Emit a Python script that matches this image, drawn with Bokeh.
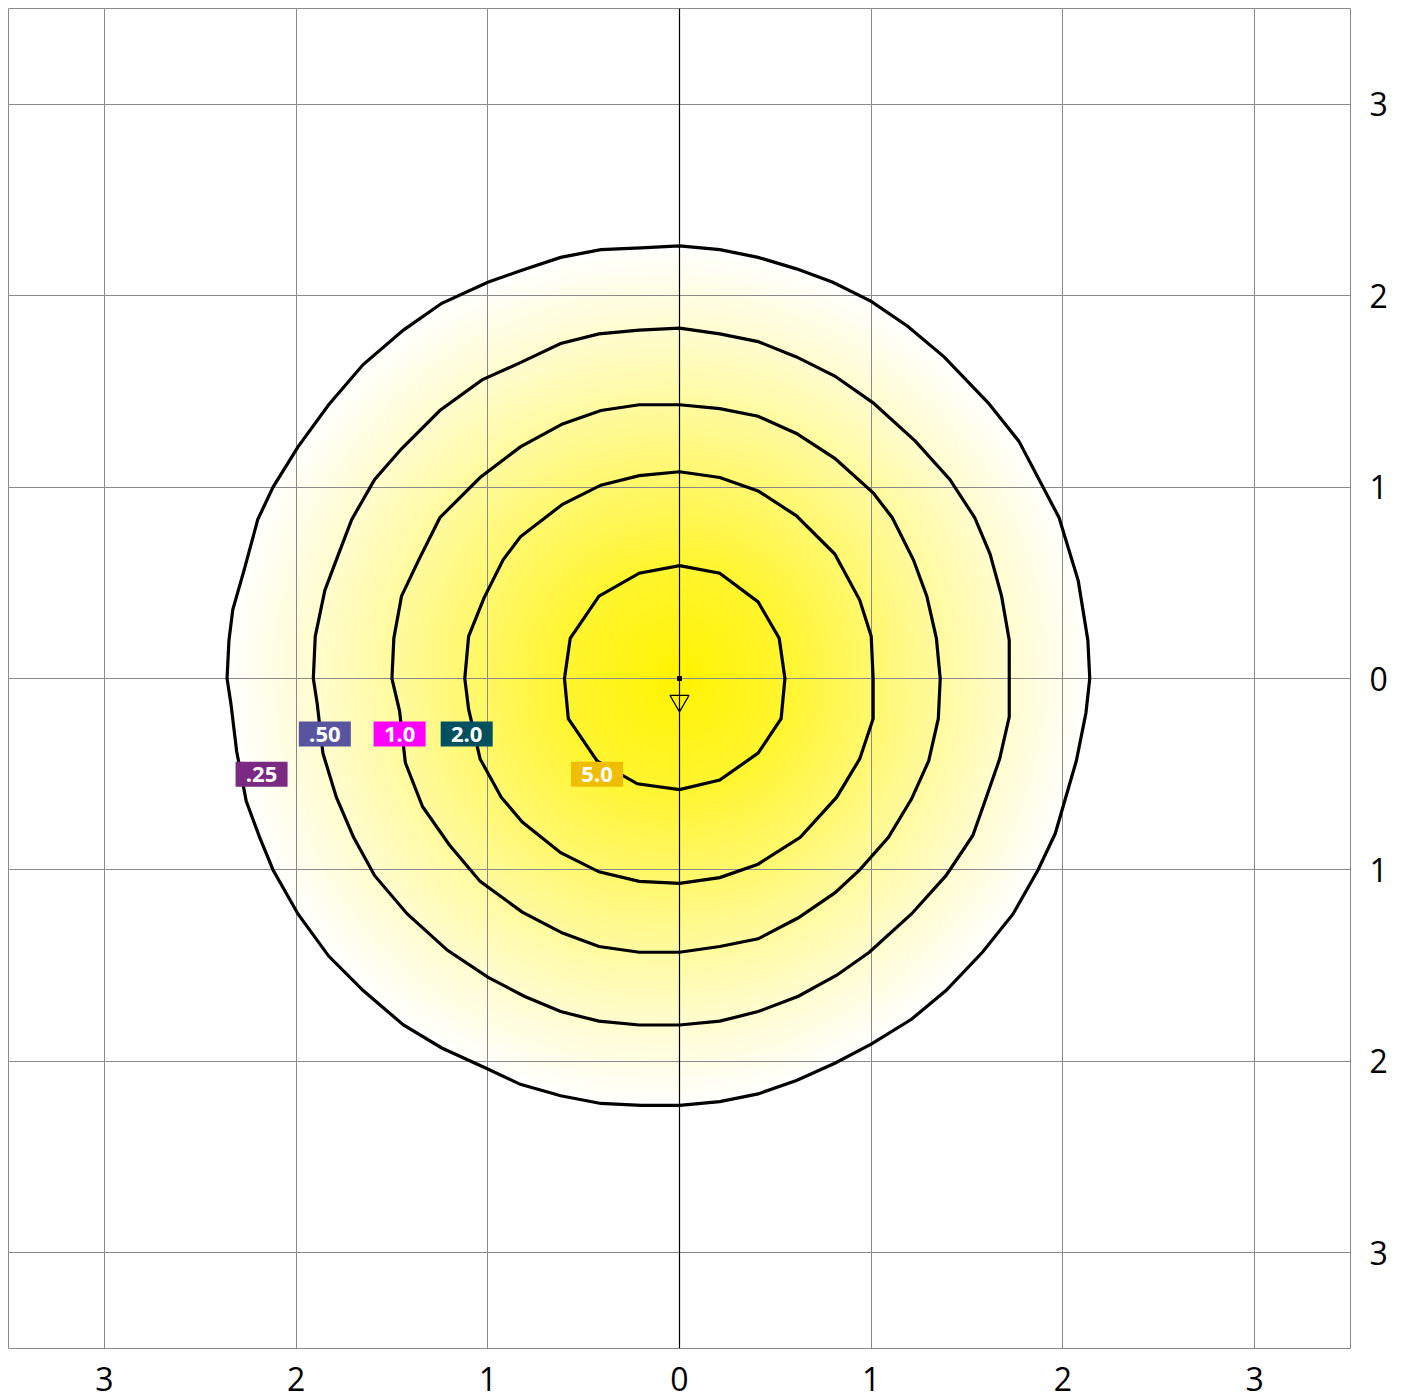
import numpy as np
from bokeh.plotting import figure
from bokeh.models import FixedTicker, Span, Range1d
from bokeh.embed import file_html
from bokeh.resources import INLINE
from bokeh.core.properties import value

# ---------------- data ----------------
ticks = [-3, -2, -1, 0, 1, 2, 3]
tick_labels = ["3", "2", "1", "0", "1", "2", "3"]

level_names = [".25", ".50", "1.0", "2.0", "5.0"]
level_values = [0.25, 0.5, 1.0, 2.0, 5.0]
peak_value = 10.0

# isolux contour .25
c025_x = [0.00, 0.21, 0.41, 0.61, 0.80, 1.00, 1.19, 1.38, 1.61, 1.77, 1.98, 2.08, 2.13, 2.14,
          2.12, 2.07, 1.96, 1.87, 1.74, 1.58, 1.39, 1.21, 1.00, 0.81, 0.61, 0.41, 0.21, 0.00,
          -0.20, -0.41, -0.62, -0.83, -1.00, -1.24, -1.44, -1.65, -1.83, -1.99, -2.12, -2.19,
          -2.26, -2.31, -2.34, -2.36, -2.35, -2.33, -2.27, -2.20, -2.12, -1.99, -1.83, -1.65,
          -1.44, -1.24, -1.00, -0.83, -0.62, -0.41, -0.20]
c025_y = [2.26, 2.24, 2.20, 2.14, 2.07, 1.97, 1.84, 1.68, 1.44, 1.24, 0.84, 0.51, 0.20, 0.00,
          -0.18, -0.43, -0.81, -1.00, -1.23, -1.43, -1.63, -1.78, -1.91, -2.01, -2.10, -2.17,
          -2.21, -2.23, -2.23, -2.22, -2.18, -2.12, -2.04, -1.93, -1.81, -1.63, -1.45, -1.23,
          -1.00, -0.83, -0.64, -0.38, -0.13, 0.00, 0.20, 0.36, 0.57, 0.83, 1.00, 1.21, 1.43,
          1.64, 1.82, 1.96, 2.07, 2.13, 2.20, 2.24, 2.25]

# isolux contour .50
c050_x = [0.00, 0.21, 0.41, 0.61, 0.81, 1.01, 1.23, 1.41, 1.54, 1.62, 1.68, 1.72, 1.72,
          1.72, 1.67, 1.59, 1.53, 1.39, 1.21, 0.99, 0.82, 0.62, 0.41, 0.21, 0.00,
          -0.21, -0.42, -0.62, -0.81, -1.00, -1.21, -1.42, -1.59, -1.70, -1.79, -1.86, -1.89, -1.91,
          -1.90, -1.85, -1.79, -1.71, -1.59, -1.45, -1.25, -1.03, -0.83, -0.62, -0.42, -0.21]
c050_y = [1.83, 1.80, 1.76, 1.68, 1.58, 1.44, 1.24, 1.04, 0.84, 0.65, 0.43, 0.20, 0.00,
          -0.20, -0.42, -0.65, -0.82, -1.03, -1.23, -1.43, -1.55, -1.66, -1.74, -1.79, -1.81,
          -1.81, -1.79, -1.74, -1.66, -1.56, -1.42, -1.23, -1.03, -0.83, -0.62, -0.39, -0.13, 0.00,
          0.22, 0.46, 0.62, 0.83, 1.04, 1.20, 1.40, 1.56, 1.65, 1.75, 1.80, 1.82]

# isolux contour 1.0
c100_x = [0.00, 0.21, 0.41, 0.61, 0.81, 1.01, 1.11, 1.22, 1.29, 1.34, 1.36,
          1.35, 1.30, 1.21, 1.09, 0.94, 0.81, 0.62, 0.41, 0.21, 0.00,
          -0.21, -0.42, -0.61, -0.82, -1.04, -1.20, -1.34, -1.43, -1.46, -1.50,
          -1.49, -1.45, -1.36, -1.25, -1.04, -0.83, -0.61, -0.41, -0.21]
c100_y = [1.43, 1.41, 1.37, 1.28, 1.15, 0.97, 0.84, 0.62, 0.43, 0.21, 0.00,
          -0.21, -0.43, -0.63, -0.83, -1.00, -1.12, -1.25, -1.36, -1.40, -1.43,
          -1.43, -1.40, -1.33, -1.22, -1.06, -0.87, -0.67, -0.44, -0.17, 0.00,
          0.21, 0.43, 0.62, 0.84, 1.05, 1.21, 1.33, 1.40, 1.43]

# isolux contour 2.0
c200_x = [0.00, 0.21, 0.41, 0.61, 0.81, 0.94, 1.00, 1.01,
          1.01, 0.94, 0.82, 0.63, 0.41, 0.21, 0.00,
          -0.21, -0.42, -0.62, -0.82, -0.93, -1.04, -1.10, -1.12,
          -1.10, -1.02, -0.92, -0.83, -0.61, -0.41, -0.21]
c200_y = [1.08, 1.05, 0.98, 0.85, 0.65, 0.41, 0.22, 0.00,
          -0.21, -0.42, -0.62, -0.83, -0.97, -1.04, -1.07,
          -1.06, -1.01, -0.91, -0.75, -0.62, -0.42, -0.16, 0.00,
          0.22, 0.42, 0.62, 0.74, 0.91, 1.01, 1.06]

# isolux contour 5.0
c500_x = [0.00, 0.21, 0.41, 0.52, 0.55, 0.53, 0.41, 0.21, 0.00,
          -0.22, -0.43, -0.58, -0.60, -0.57, -0.42, -0.21]
c500_y = [0.59, 0.55, 0.40, 0.21, 0.00, -0.21, -0.39, -0.53, -0.58,
          -0.55, -0.43, -0.21, 0.00, 0.21, 0.43, 0.55]

contours_x = [c025_x, c050_x, c100_x, c200_x, c500_x]
contours_y = [c025_y, c050_y, c100_y, c200_y, c500_y]

label_x = [-2.18, -1.85, -1.46, -1.11, -0.43]
label_y = [-0.50, -0.29, -0.29, -0.29, -0.50]
label_colors = ["#7a2a82", "#5854a0", "#ff00ff", "#005060", "#f0be00"]

luminaire_x = [0.0]
luminaire_y = [0.0]
aim_x = [0.0]
aim_y = [-0.117]

# ---------------- gradient (derived from the contours) ----------------
def radius_at(theta, xs, ys):
    xs = np.asarray(xs, float)
    ys = np.asarray(ys, float)
    ang = np.arctan2(ys, xs)
    r = np.hypot(xs, ys)
    o = np.argsort(ang)
    return np.interp(theta, ang[o], r[o], period=2 * np.pi)

N = 700
ext = 2.45
g = np.linspace(-ext, ext, N)
GX, GY = np.meshgrid(g, g)
TH = np.arctan2(GY, GX)
D = np.hypot(GX, GY)
radii = [radius_at(TH, cx, cy) for cx, cy in zip(contours_x, contours_y)]
knots_r = [np.zeros_like(D)] + radii[::-1]
knots_v = [np.log(peak_value)] + [np.log(v) for v in level_values[::-1]]
logL = np.full(D.shape, np.nan)
for i in range(len(knots_r) - 1):
    r0, r1 = knots_r[i], knots_r[i + 1]
    m = (D >= r0) & (D <= r1)
    t = (D[m] - r0[m]) / (r1[m] - r0[m])
    logL[m] = knots_v[i] + t * (knots_v[i + 1] - knots_v[i])
inside = ~np.isnan(logL)
s = np.zeros(D.shape)
s[inside] = (logL[inside] - np.log(level_values[0])) / (np.log(peak_value) - np.log(level_values[0]))
s = np.clip(s, 0, 1)
img = np.zeros((N, N, 4), dtype=np.uint8)
img[..., 0] = 255
img[..., 1] = np.round(255 - 12 * s).astype(np.uint8)
img[..., 2] = np.round(255 * (1 - s)).astype(np.uint8)
img[..., 3] = np.where(inside, 255, 0).astype(np.uint8)
rgba = img.view(dtype=np.uint32).reshape((N, N))

# ---------------- figure ----------------
p = figure(output_backend="svg", toolbar_location=None,
           frame_width=1342, frame_height=1340,
           x_range=Range1d(-3.5, 3.5), y_range=Range1d(-3.5, 3.5),
           y_axis_location="right",
           min_border_left=8, min_border_top=8, min_border_right=10, min_border_bottom=45,
           background_fill_color="white", border_fill_color="white")
p.outline_line_color = "#8a8a8a"
p.outline_line_width = 1

p.image_rgba(image=[rgba], x=-ext, y=-ext, dw=2 * ext, dh=2 * ext, level="image")

overrides = {t: lab for t, lab in zip(ticks, tick_labels)}
for ax in (p.xaxis, p.yaxis):
    ax.ticker = FixedTicker(ticks=ticks)
    ax.major_label_overrides = overrides
    ax.axis_line_color = None
    ax.major_tick_line_color = None
    ax.minor_tick_line_color = None
    ax.major_label_text_font = "Open Sans"
    ax.major_label_text_font_size = "32px"
    ax.major_label_text_color = "black"
p.xaxis.major_label_standoff = 12
p.yaxis.major_label_standoff = 13

for gr in (p.xgrid, p.ygrid):
    gr.ticker = FixedTicker(ticks=ticks)
    gr.grid_line_color = "#8a8a8a"
    gr.grid_line_width = 1
    gr.grid_line_alpha = 1

p.add_layout(Span(location=0, dimension="height", line_color="black", line_width=1.2, level="underlay"))

p.patches(xs=contours_x, ys=contours_y, fill_color=None, line_color="black", line_width=3.2,
          line_join="miter")

p.rect(x=label_x, y=label_y, width=52, height=25, width_units="screen", height_units="screen",
       fill_color=label_colors, line_color=None)
p.text(x=label_x, y=label_y, text=level_names, text_color="white",
       text_font=value("Open Sans"), text_font_style="bold", text_font_size="22px",
       text_align="center", text_baseline="middle")

p.scatter(x=luminaire_x, y=luminaire_y, marker="square", size=4, fill_color="black",
          line_color="black")
p.scatter(x=aim_x, y=aim_y, marker="inverted_triangle", size=19, fill_color=None,
          line_color="black", line_width=1.2)

open("out.html", "w").write(file_html(p, INLINE))
